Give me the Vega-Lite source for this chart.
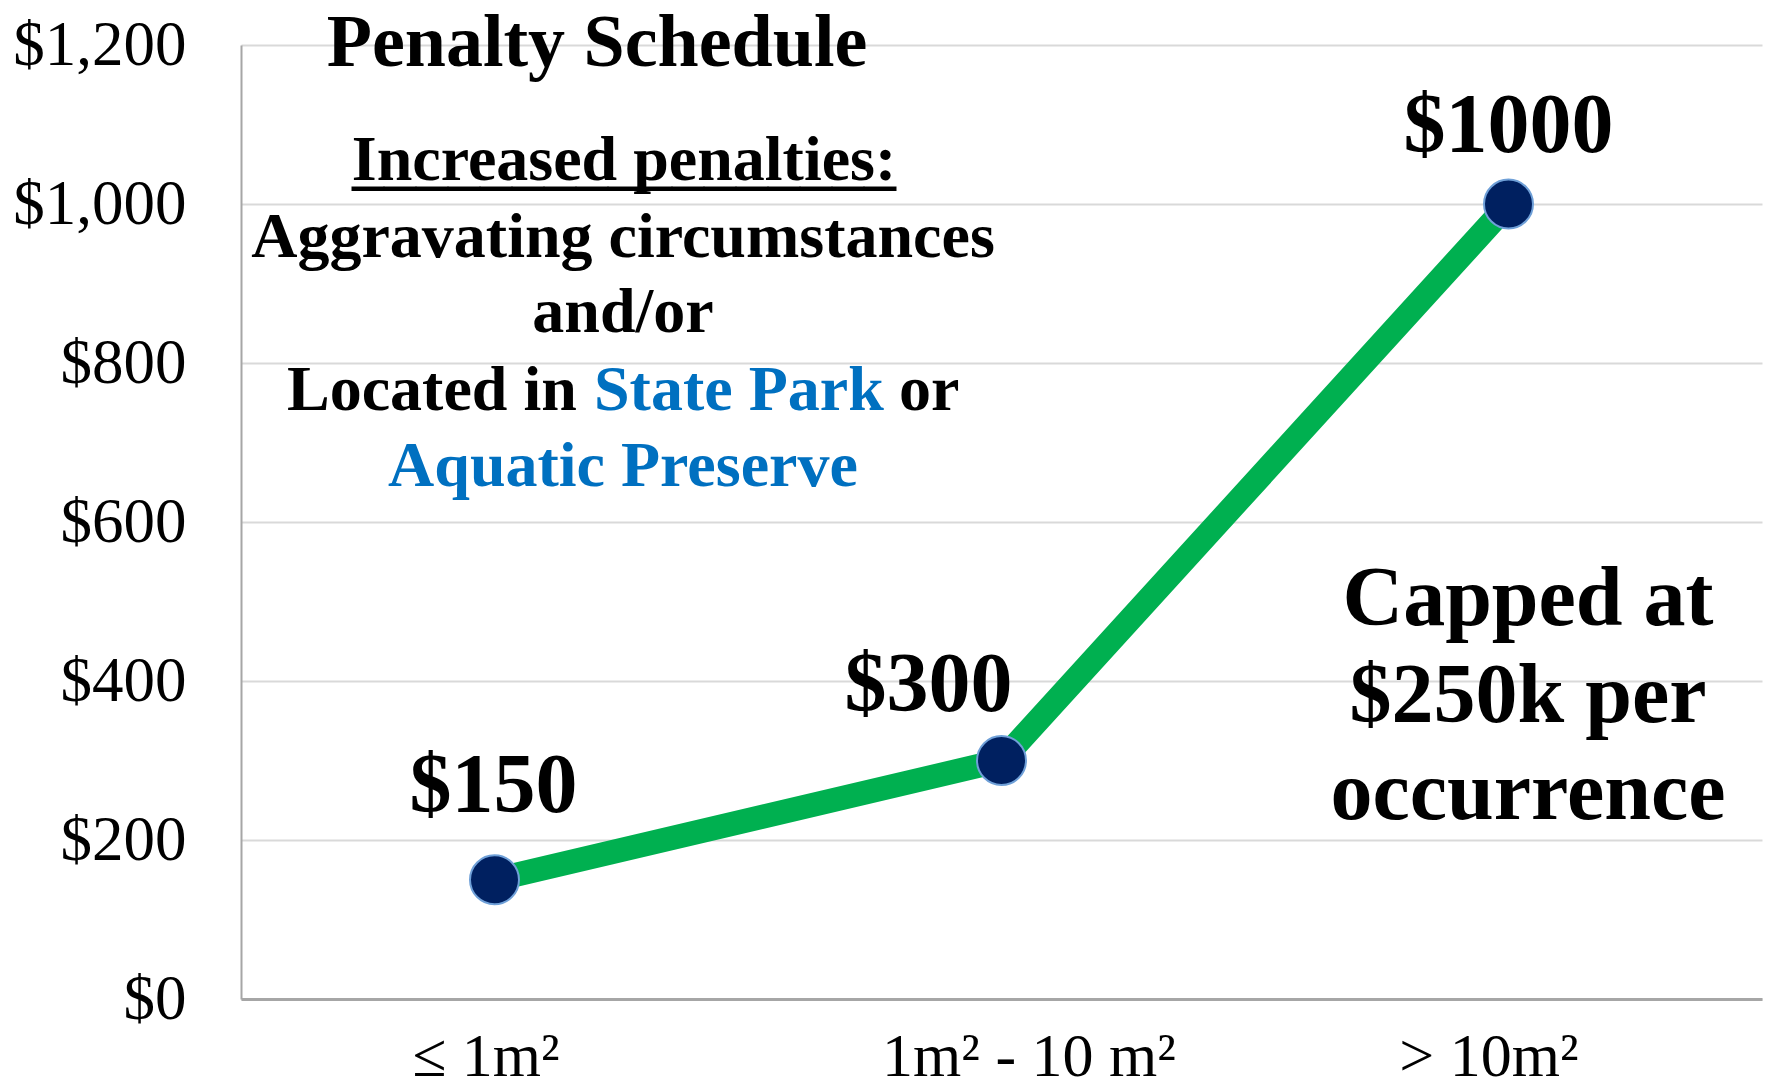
{
  "$schema": "https://vega.github.io/schema/vega-lite/v6.json",
  "width": 1521,
  "height": 954,
  "autosize": "none",
  "padding": {"left": 241, "top": 45, "right": 5, "bottom": 90},
  "background": "white",
  "config": {"view": {"stroke": null}, "font": "Liberation Serif"},
  "data": {
    "values": [
      {"area": "≤ 1m²", "penalty": 150, "label": "$150"},
      {"area": "1m² - 10 m²", "penalty": 300, "label": "$300"},
      {"area": "> 10m²", "penalty": 1000, "label": "$1000"}
    ]
  },
  "layer": [
    {
      "mark": {"type": "line", "color": "#00b050", "strokeWidth": 24},
      "encoding": {
        "x": {
          "field": "area", "type": "ordinal", "sort": null,
          "scale": {"type": "point", "padding": 0.5},
          "axis": {
            "title": null, "labelAngle": 0, "labelFont": "Liberation Serif", "labelFontSize": 62,
            "labelColor": "#000000", "labelBaseline": "alphabetic", "labelPadding": 76, "labelLimit": 0,
            "labelOffset": {"condition": [{"test": "datum.value === '≤ 1m²'", "value": -9}, {"test": "datum.value === '> 10m²'", "value": -20}], "value": 27},
            "ticks": false, "tickSize": 0, "grid": false,
            "domainColor": "#a6a6a6", "domainWidth": 3
          }
        },
        "y": {
          "field": "penalty", "type": "quantitative",
          "scale": {"domain": [0, 1200], "nice": false, "zero": true},
          "axis": {
            "title": null, "values": [0, 200, 400, 600, 800, 1000, 1200], "format": "$,.0f",
            "labelFont": "Liberation Serif", "labelFontSize": 63, "labelColor": "#000000",
            "labelPadding": 55, "labelLimit": 0, "ticks": false, "tickSize": 0,
            "domainColor": "#a6a6a6", "domainWidth": 2,
            "gridColor": "#d9d9d9", "gridWidth": 2
          }
        }
      }
    },
    {
      "mark": {"type": "point", "filled": true, "size": 2400, "fill": "#002060", "stroke": "#6fa0d8", "strokeWidth": 2, "opacity": 1},
      "encoding": {
        "x": {"field": "area", "type": "ordinal", "sort": null},
        "y": {"field": "penalty", "type": "quantitative"}
      }
    },
    {
      "transform": [{"filter": "datum.penalty == 150"}],
      "mark": {"type": "text", "font": "Liberation Serif", "fontWeight": "bold", "fontSize": 84, "color": "#000000", "align": "center", "baseline": "alphabetic", "dx": -1, "dy": -68},
      "encoding": {
        "x": {"field": "area", "type": "ordinal", "sort": null},
        "y": {"field": "penalty", "type": "quantitative"},
        "text": {"field": "label"}
      }
    },
    {
      "transform": [{"filter": "datum.penalty == 300"}],
      "mark": {"type": "text", "font": "Liberation Serif", "fontWeight": "bold", "fontSize": 84, "color": "#000000", "align": "center", "baseline": "alphabetic", "dx": -73, "dy": -50},
      "encoding": {
        "x": {"field": "area", "type": "ordinal", "sort": null},
        "y": {"field": "penalty", "type": "quantitative"},
        "text": {"field": "label"}
      }
    },
    {
      "transform": [{"filter": "datum.penalty == 1000"}],
      "mark": {"type": "text", "font": "Liberation Serif", "fontWeight": "bold", "fontSize": 84, "color": "#000000", "align": "center", "baseline": "alphabetic", "dx": 0, "dy": -52},
      "encoding": {
        "x": {"field": "area", "type": "ordinal", "sort": null},
        "y": {"field": "penalty", "type": "quantitative"},
        "text": {"field": "label"}
      }
    },
    {
      "data": {"values": [{"t": "Penalty Schedule"}]},
      "mark": {"type": "text", "font": "Liberation Serif", "fontWeight": "bold", "fontSize": 74, "color": "#000000", "align": "center", "baseline": "alphabetic", "dx": 102.5},
      "encoding": {
        "x": {"datum": "≤ 1m²", "type": "ordinal"},
        "y": {"datum": 1173, "type": "quantitative"},
        "text": {"field": "t"}
      }
    },
    {
      "data": {"values": [{"t": "Increased penalties:"}]},
      "mark": {"type": "text", "font": "Liberation Serif", "fontWeight": "bold", "fontSize": 64, "color": "#000000", "align": "center", "baseline": "alphabetic", "dx": 129.5},
      "encoding": {
        "x": {"datum": "≤ 1m²", "type": "ordinal"},
        "y": {"datum": 1030, "type": "quantitative"},
        "text": {"field": "t"}
      }
    },
    {
      "data": {"values": [{"t": "_________________"}]},
      "mark": {"type": "text", "font": "Liberation Serif", "fontWeight": "bold", "fontSize": 64, "color": "#000000", "align": "center", "baseline": "alphabetic", "dx": 129.5, "dy": 2},
      "encoding": {
        "x": {"datum": "≤ 1m²", "type": "ordinal"},
        "y": {"datum": 1030, "type": "quantitative"},
        "text": {"field": "t"}
      }
    },
    {
      "data": {"values": [{"t": "Aggravating circumstances\nand/or"}]},
      "mark": {"type": "text", "font": "Liberation Serif", "fontWeight": "bold", "fontSize": 64, "color": "#000000", "align": "center", "baseline": "alphabetic", "dx": 128.5, "lineBreak": "\n", "lineHeight": 75},
      "encoding": {
        "x": {"datum": "≤ 1m²", "type": "ordinal"},
        "y": {"datum": 933, "type": "quantitative"},
        "text": {"field": "t"}
      }
    },
    {
      "data": {"values": [{"t": "Located in"}]},
      "mark": {"type": "text", "font": "Liberation Serif", "fontWeight": "bold", "fontSize": 64, "color": "#000000", "align": "left", "baseline": "alphabetic", "dx": -207.5},
      "encoding": {
        "x": {"datum": "≤ 1m²", "type": "ordinal"},
        "y": {"datum": 741, "type": "quantitative"},
        "text": {"field": "t"}
      }
    },
    {
      "data": {"values": [{"t": "State Park"}]},
      "mark": {"type": "text", "font": "Liberation Serif", "fontWeight": "bold", "fontSize": 64, "color": "#0070c0", "align": "left", "baseline": "alphabetic", "dx": 99.5},
      "encoding": {
        "x": {"datum": "≤ 1m²", "type": "ordinal"},
        "y": {"datum": 741, "type": "quantitative"},
        "text": {"field": "t"}
      }
    },
    {
      "data": {"values": [{"t": "or"}]},
      "mark": {"type": "text", "font": "Liberation Serif", "fontWeight": "bold", "fontSize": 64, "color": "#000000", "align": "left", "baseline": "alphabetic", "dx": 404.5},
      "encoding": {
        "x": {"datum": "≤ 1m²", "type": "ordinal"},
        "y": {"datum": 741, "type": "quantitative"},
        "text": {"field": "t"}
      }
    },
    {
      "data": {"values": [{"t": "Aquatic Preserve"}]},
      "mark": {"type": "text", "font": "Liberation Serif", "fontWeight": "bold", "fontSize": 64, "color": "#0070c0", "align": "center", "baseline": "alphabetic", "dx": 128.5},
      "encoding": {
        "x": {"datum": "≤ 1m²", "type": "ordinal"},
        "y": {"datum": 645, "type": "quantitative"},
        "text": {"field": "t"}
      }
    },
    {
      "data": {"values": [{"t": "Capped at\n$250k per\noccurrence"}]},
      "mark": {"type": "text", "font": "Liberation Serif", "fontWeight": "bold", "fontSize": 84, "color": "#000000", "align": "center", "baseline": "alphabetic", "dx": 19.5, "lineBreak": "\n", "lineHeight": 97},
      "encoding": {
        "x": {"datum": "> 10m²", "type": "ordinal"},
        "y": {"datum": 470, "type": "quantitative"},
        "text": {"field": "t"}
      }
    }
  ]
}
